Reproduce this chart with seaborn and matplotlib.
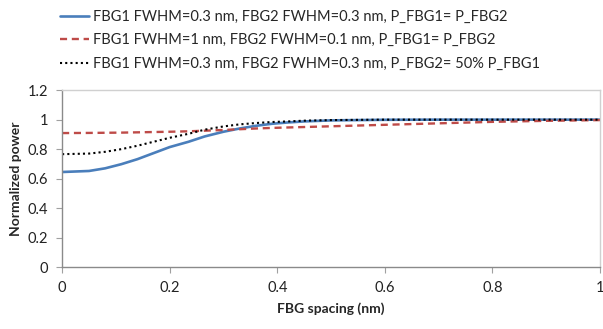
import matplotlib
matplotlib.use('Agg')
import matplotlib.pyplot as plt
import seaborn as sns
import pandas as pd

# values
spacing = [0, 0.05, 0.08, 0.11, 0.14, 0.17, 0.2, 0.235, 0.265, 0.3, 0.33, 0.36,
           0.39, 0.42, 0.45, 0.5, 0.6, 0.7, 0.8, 0.9, 1.0]
equal_fwhm = [0.645, 0.652, 0.67, 0.698, 0.732, 0.773, 0.814, 0.85, 0.886, 0.918, 0.94, 0.958,
              0.972, 0.981, 0.988, 0.995, 0.999, 1.0, 1.0, 1.0, 1.0]
diff_fwhm = [0.909, 0.91, 0.911, 0.912, 0.914, 0.916, 0.918, 0.921, 0.925, 0.93, 0.935, 0.94,
             0.944, 0.947, 0.95, 0.955, 0.965, 0.975, 0.985, 0.992, 0.997]
half_power = [0.766, 0.77, 0.782, 0.80, 0.823, 0.85, 0.877, 0.904, 0.932, 0.954, 0.968, 0.977,
              0.984, 0.988, 0.993, 0.997, 1.0, 1.0, 1.0, 1.0, 1.0]

labels = [
    'FBG1 FWHM=0.3 nm, FBG2 FWHM=0.3 nm, P_FBG1= P_FBG2',
    'FBG1 FWHM=1 nm, FBG2 FWHM=0.1 nm, P_FBG1= P_FBG2',
    'FBG1 FWHM=0.3 nm, FBG2 FWHM=0.3 nm, P_FBG2= 50% P_FBG1',
]
x_ticks = [0, 0.2, 0.4, 0.6, 0.8, 1]
y_ticks = [0, 0.2, 0.4, 0.6, 0.8, 1, 1.2]

sns.set_style('white')
plt.rcParams['font.family'] = ['Lato', 'DejaVu Sans']

fig = plt.figure(figsize=(6.03, 3.29), dpi=100)
ax = fig.add_axes([0.103, 0.188, 0.892, 0.538])

styles = [('#4a7ebb', '-', 1.9), ('#be4b48', (0, (3, 2)), 1.7), ('black', (0, (1, 1.5)), 1.5)]
for ys, lab, (col, ls, lw) in zip([equal_fwhm, diff_fwhm, half_power], labels, styles):
    df = pd.DataFrame({'x': spacing, 'y': ys})
    sns.lineplot(data=df, x='x', y='y', ax=ax, color=col, linestyle=ls, linewidth=lw, label=lab)

ax.set_xlim(0, 1)
ax.set_ylim(0, 1.2)
ax.set_xticks(x_ticks)
ax.set_xticklabels(['0', '0.2', '0.4', '0.6', '0.8', '1'])
ax.set_yticks(y_ticks)
ax.set_yticklabels(['0', '0.2', '0.4', '0.6', '0.8', '1', '1.2'])
ax.tick_params(axis='both', labelsize=10.5, colors='#222222', length=4, direction='out',
               bottom=True, left=True, pad=6)
ax.tick_params(axis='both', color='#a0a0a0')
ax.set_xlabel('FBG spacing (nm)', fontsize=10, fontweight='bold', labelpad=5)
ax.set_ylabel('Normalized power', fontsize=10, fontweight='bold', labelpad=4)
for side in ['top', 'right']:
    ax.spines[side].set_color('#d0d0d0')
for side in ['left', 'bottom']:
    ax.spines[side].set_color('#8a8a8a')
for s in ax.spines.values():
    s.set_linewidth(1)

h, l = ax.get_legend_handles_labels()
ax.get_legend().remove()
fig.legend(h, l, loc='upper left', bbox_to_anchor=(0.078, 1.01), frameon=False,
           fontsize=10.5, handlelength=2.0, handletextpad=0.25, labelspacing=0.65)

plt.savefig('out.png', dpi=100)
plt.close()
